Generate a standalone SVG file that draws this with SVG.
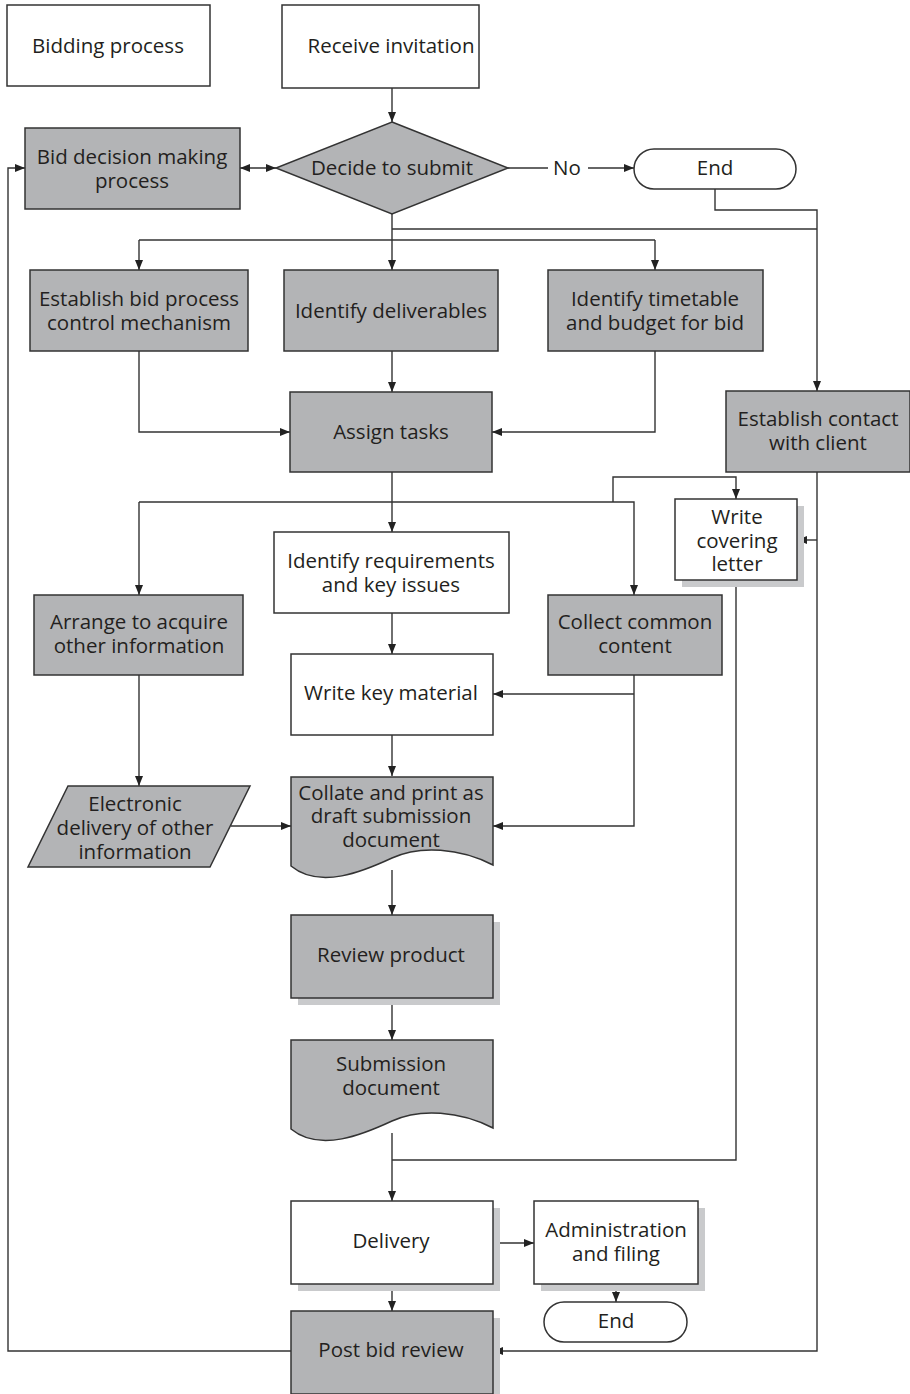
<svg xmlns="http://www.w3.org/2000/svg" width="910" height="1394" viewBox="0 0 910 1394">
  <defs>
    <marker id="arr" viewBox="0 0 10 10" refX="10" refY="5" markerWidth="10" markerHeight="10" markerUnits="userSpaceOnUse" orient="auto-start-reverse">
      <path d="M0 1 L10 5 L0 9 Z" fill="#222"/>
    </marker>
    <style>
      .box { stroke: #333; stroke-width: 1.5; }
      .w { fill: #fff; }
      .g { fill: #b3b4b6; }
      .sh { fill: #c9cacc; }
      .ln { fill: none; stroke: #333; stroke-width: 1.4; }
      .a { marker-end: url(#arr); }
      text { font-family: "Open Sans", "Noto Sans", "DejaVu Sans", sans-serif; font-size: 20.5px; fill: #231f20; text-anchor: middle; }
    </style>
  </defs>
  <rect width="910" height="1394" fill="#fff"/>

  <!-- connectors -->
  <g id="connectors">
    <path class="ln a" d="M392 88 V122"/>
    <path class="ln a" d="M240 168 H276" marker-start="url(#arr)"/>
    <path class="ln" d="M508 168 H548"/>
    <path class="ln a" d="M588 168 H634"/>
    <path class="ln a" d="M715 189 V210 H817 V391"/>
    <path class="ln a" d="M392 214 V270"/>
    <path class="ln" d="M392 229 H817"/>
    <path class="ln" d="M139 240 H655"/>
    <path class="ln a" d="M139 240 V270"/>
    <path class="ln a" d="M655 240 V270"/>
    <path class="ln a" d="M139 351 V432 H290"/>
    <path class="ln a" d="M392 351 V392"/>
    <path class="ln a" d="M655 351 V432 H492"/>
    <path class="ln a" d="M392 472 V532"/>
    <path class="ln a" d="M139 502 H634 V595"/>
    <path class="ln a" d="M139 502 V595"/>
    <path class="ln a" d="M613 502 V477 H736 V499"/>
    <path class="ln a" d="M817 472 V1351 H493"/>
    <path class="ln a" d="M817 540 H797"/>
    <path class="ln a" d="M392 613 V654"/>
    <path class="ln a" d="M634 675 V826 H493"/>
    <path class="ln a" d="M634 694 H493"/>
    <path class="ln a" d="M392 735 V776"/>
    <path class="ln a" d="M139 675 V786"/>
    <path class="ln a" d="M231 826 H291"/>
    <path class="ln a" d="M392 870 V915"/>
    <path class="ln a" d="M392 998 V1040"/>
    <path class="ln a" d="M392 1133 V1201"/>
    <path class="ln" d="M736 580 V1160 H392"/>
    <path class="ln a" d="M493 1243 H534"/>
    <path class="ln a" d="M392 1284 V1311"/>
    <path class="ln a" d="M616 1284 V1302"/>
    <path class="ln a" d="M291 1351 H8 V168 H25"/>
    <text x="567" y="175">No</text>
  </g>

  <g id="bidding-process">
    <rect class="box w" x="7" y="5" width="203" height="81"/>
    <text x="108" y="53">Bidding process</text>
  </g>
  <g id="receive-invitation">
    <rect class="box w" x="282" y="5" width="197" height="83"/>
    <text x="391" y="53">Receive invitation</text>
  </g>
  <g id="bid-decision">
    <rect class="box g" x="25" y="128" width="215" height="81"/>
    <text x="132" y="164">Bid decision making</text>
    <text x="132" y="188">process</text>
  </g>
  <g id="decide-to-submit">
    <polygon class="box g" points="392,122 508,168 392,214 276,168"/>
    <text x="392" y="175">Decide to submit</text>
  </g>
  <g id="end-top">
    <rect class="box w" x="634" y="149" width="162" height="40" rx="20"/>
    <text x="715" y="175">End</text>
  </g>
  <g id="establish-bid-process">
    <rect class="box g" x="30" y="270" width="218" height="81"/>
    <text x="139" y="306">Establish bid process</text>
    <text x="139" y="330">control mechanism</text>
  </g>
  <g id="identify-deliverables">
    <rect class="box g" x="284" y="270" width="214" height="81"/>
    <text x="391" y="318">Identify deliverables</text>
  </g>
  <g id="identify-timetable">
    <rect class="box g" x="548" y="270" width="215" height="81"/>
    <text x="655" y="306">Identify timetable</text>
    <text x="655" y="330">and budget for bid</text>
  </g>
  <g id="assign-tasks">
    <rect class="box g" x="290" y="392" width="202" height="80"/>
    <text x="391" y="439">Assign tasks</text>
  </g>
  <g id="establish-contact">
    <rect class="box g" x="726" y="391" width="184" height="81"/>
    <text x="818" y="426">Establish contact</text>
    <text x="818" y="450">with client</text>
  </g>
  <g id="write-covering-letter">
    <rect class="sh" x="682" y="506" width="122" height="81"/>
    <rect class="box w" x="675" y="499" width="122" height="81"/>
    <text x="737" y="524">Write</text>
    <text x="737" y="548">covering</text>
    <text x="737" y="571">letter</text>
  </g>
  <g id="identify-requirements">
    <rect class="box w" x="274" y="532" width="235" height="81"/>
    <text x="391" y="568">Identify requirements</text>
    <text x="391" y="592">and key issues</text>
  </g>
  <g id="arrange-acquire">
    <rect class="box g" x="34" y="595" width="209" height="80"/>
    <text x="139" y="629">Arrange to acquire</text>
    <text x="139" y="653">other information</text>
  </g>
  <g id="collect-common-content">
    <rect class="box g" x="548" y="595" width="174" height="80"/>
    <text x="635" y="629">Collect common</text>
    <text x="635" y="653">content</text>
  </g>
  <g id="write-key-material">
    <rect class="box w" x="291" y="654" width="202" height="81"/>
    <text x="391" y="700">Write key material</text>
  </g>
  <g id="electronic-delivery">
    <polygon class="box g" points="68,786 250,786 210,867 28,867"/>
    <text x="135" y="811">Electronic</text>
    <text x="135" y="835">delivery of other</text>
    <text x="135" y="859">information</text>
  </g>
  <g id="collate-print">
    <path class="box g" d="M291 777 H493 V865 C460 848 420 845 392 858 S320 890 291 866 Z"/>
    <text x="391" y="800">Collate and print as</text>
    <text x="391" y="823">draft submission</text>
    <text x="391" y="847">document</text>
  </g>
  <g id="review-product">
    <rect class="sh" x="298" y="922" width="202" height="83"/>
    <rect class="box g" x="291" y="915" width="202" height="83"/>
    <text x="391" y="962">Review product</text>
  </g>
  <g id="submission-document">
    <path class="box g" d="M291 1040 H493 V1128 C460 1111 420 1108 392 1121 S320 1153 291 1129 Z"/>
    <text x="391" y="1071">Submission</text>
    <text x="391" y="1095">document</text>
  </g>
  <g id="delivery">
    <rect class="sh" x="298" y="1208" width="202" height="83"/>
    <rect class="box w" x="291" y="1201" width="202" height="83"/>
    <text x="391" y="1248">Delivery</text>
  </g>
  <g id="administration-filing">
    <rect class="sh" x="541" y="1208" width="164" height="83"/>
    <rect class="box w" x="534" y="1201" width="164" height="83"/>
    <text x="616" y="1237">Administration</text>
    <text x="616" y="1261">and filing</text>
  </g>
  <g id="end-bottom">
    <rect class="box w" x="544" y="1302" width="143" height="40" rx="20"/>
    <text x="616" y="1328">End</text>
  </g>
  <g id="post-bid-review">
    <rect class="sh" x="298" y="1318" width="202" height="83"/>
    <rect class="box g" x="291" y="1311" width="202" height="83"/>
    <text x="391" y="1357">Post bid review</text>
  </g>
</svg>
